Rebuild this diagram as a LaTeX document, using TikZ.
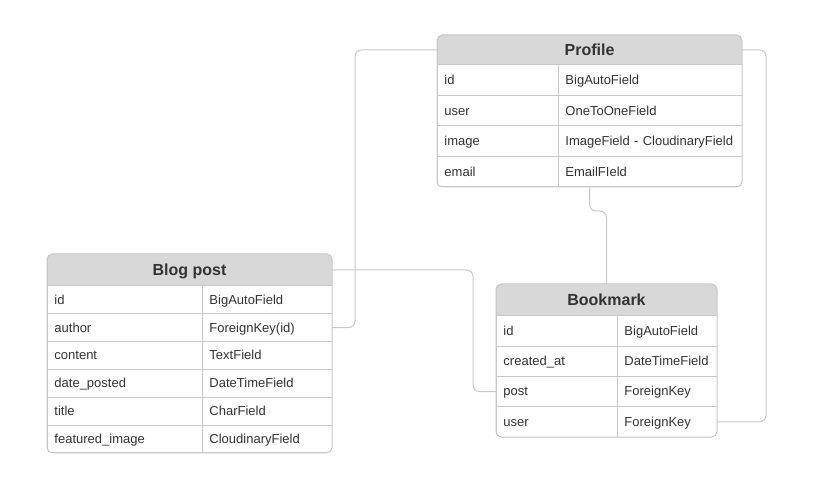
\documentclass[tikz,border=0pt]{standalone}
\usepackage{fontspec}
\setmainfont{Liberation Sans}
\usepackage{tikz}
\usetikzlibrary{positioning}
\definecolor{linegray}{HTML}{C8C8C8}
\definecolor{hdrgray}{HTML}{D8D8D8}
\definecolor{textdark}{HTML}{333333}

\begin{document}
\begin{tikzpicture}[
  x=0.75pt, y=-0.75pt,
  hdr/.style={draw=linegray, fill=hdrgray, anchor=north west, inner sep=0pt, outer sep=0pt, line width=0.75pt, text height=8.7pt, text depth=0.5pt, font=\bfseries\fontsize{12}{14}\selectfont, text=textdark},
  cell/.style={draw=linegray, fill=white, anchor=north west, inner xsep=5.6pt, inner ysep=0pt, outer sep=0pt, line width=0.75pt, align=left, text height=8pt, text depth=1.5pt, font=\fontsize{9.75}{11}\selectfont, text=textdark},
  frame/.style={draw=linegray, line width=0.75pt, rounded corners=4},
  conn/.style={draw=linegray, line width=0.75pt, rounded corners=5}
]
\useasboundingbox (0,0) rectangle (814,495);

% Blog post
\begin{scope}
\clip[rounded corners=4] (47,254) rectangle (332,453);
\node[hdr, minimum width=213.75pt, minimum height=24pt] (blog) at (47,254) {Blog post};
\foreach \k/\t [count=\i] in {id/BigAutoField, author/ForeignKey(id), content/TextField, date\_posted/DateTimeField, title/CharField, featured\_image/CloudinaryField} {
  \node[cell, text width=105.05pt, minimum height=20.85pt] (blog-k\i) at (47,286+27.8*\i-27.8) {\k};
  \node[cell, text width=86.3pt, minimum height=20.85pt] (blog-t\i) at (202,286+27.8*\i-27.8) {\t};
}
\end{scope}
\draw[frame] (blog.north west) rectangle (blog-t6.south east);

% Profile
\begin{scope}
\clip[rounded corners=4] (437,35) rectangle (742,187);
\node[hdr, minimum width=228.75pt, minimum height=22.5pt] (profile) at (437,35) {Profile};
\foreach \k/\t [count=\i] in {id/BigAutoField, user/OneToOneField, image/ImageField - CloudinaryField, email/EmailFIeld} {
  \node[cell, text width=79.55pt, minimum height=22.875pt] (profile-k\i) at (437,65+30.5*\i-30.5) {\k};
  \node[cell, text width=126.8pt, minimum height=22.875pt] (profile-t\i) at (558,65+30.5*\i-30.5) {\t};
}
\end{scope}
\draw[frame] (profile.north west) rectangle (profile-t4.south east);

% Bookmark
\begin{scope}
\clip[rounded corners=4] (496,284) rectangle (717,437);
\node[hdr, minimum width=165.75pt, minimum height=24pt] (bookmark) at (496,284) {Bookmark};
\foreach \k/\t [count=\i] in {id/BigAutoField, created\_at/DateTimeField, post/ForeignKey, user/ForeignKey} {
  \node[cell, text width=79.55pt, minimum height=22.69pt] (bm-k\i) at (496,316+30.25*\i-30.25) {\k};
  \node[cell, text width=63.8pt, minimum height=22.69pt] (bm-t\i) at (617,316+30.25*\i-30.25) {\t};
}
\end{scope}
\draw[frame] (bookmark.north west) rectangle (bm-t4.south east);

% relations
\draw[conn] (blog-t2.east) -- ++(23,0) |- (profile.west);
\draw[conn] (blog.east) -- ++(141,0) |- (bm-k3.west);
\draw[conn] (profile.center |- profile-t4.south) -- ++(0,24) -| (bookmark.north);
\draw[conn] (profile.east) -- ++(24,0) |- (bm-t4.east);
\end{tikzpicture}
\end{document}
